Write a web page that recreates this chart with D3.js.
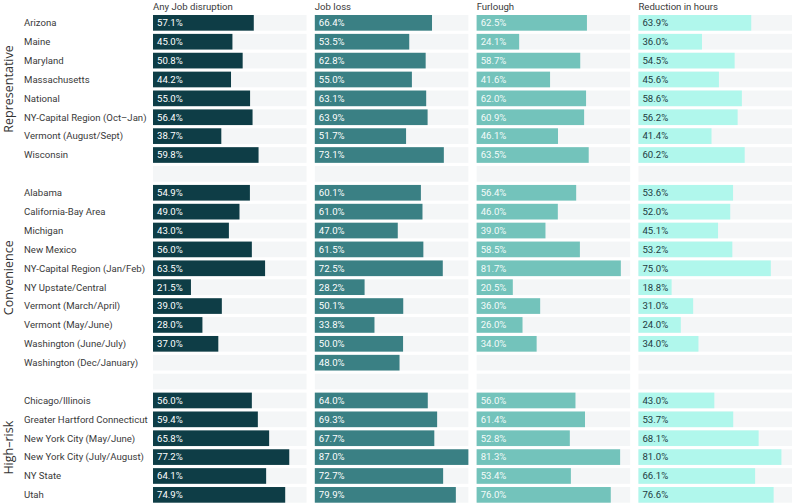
<!DOCTYPE html>
<html>
<head>
<meta charset="utf-8">
<script src="https://cdn.jsdelivr.net/npm/d3@7"></script>
<style>
  body { margin: 0; background: #fff; }
  svg { display: block; font-family: Roboto, sans-serif; }
</style>
</head>
<body>
<script>
// rows (blank strings = spacer rows between groups)
const rows = [
  "Arizona", "Maine", "Maryland", "Massachusetts", "National",
  "NY-Capital Region (Oct\u2013Jan)", "Vermont (August/Sept)", "Wisconsin",
  "",
  "Alabama", "California-Bay Area", "Michigan", "New Mexico",
  "NY-Capital Region (Jan/Feb)", "NY Upstate/Central", "Vermont (March/April)",
  "Vermont (May/June)", "Washington (June/July)", "Washington (Dec/January)",
  " ",
  "Chicago/Illinois", "Greater Hartford Connecticut", "New York City (May/June)",
  "New York City (July/August)", "NY State", "Utah"
]
const groups = ["Representative", "Convenience", "High\u2013risk"]
const groupRows = [[0, 7], [9, 18], [20, 25]]
const columns = ["Any Job disruption", "Job loss", "Furlough", "Reduction in hours"]

// values per column, null = no value
const anyDisruption = [57.1, 45.0, 50.8, 44.2, 55.0, 56.4, 38.7, 59.8, null,
  54.9, 49.0, 43.0, 56.0, 63.5, 21.5, 39.0, 28.0, 37.0, null, null,
  56.0, 59.4, 65.8, 77.2, 64.1, 74.9]
const jobLoss = [66.4, 53.5, 62.8, 55.0, 63.1, 63.9, 51.7, 73.1, null,
  60.1, 61.0, 47.0, 61.5, 72.5, 28.2, 50.1, 33.8, 50.0, 48.0, null,
  64.0, 69.3, 67.7, 87.0, 72.7, 79.9]
const furlough = [62.5, 24.1, 58.7, 41.6, 62.0, 60.9, 46.1, 63.5, null,
  56.4, 46.0, 39.0, 58.5, 81.7, 20.5, 36.0, 26.0, 34.0, null, null,
  56.0, 61.4, 52.8, 81.3, 53.4, 76.0]
const reduction = [63.9, 36.0, 54.5, 45.6, 58.6, 56.2, 41.4, 60.2, null,
  53.6, 52.0, 45.1, 53.2, 75.0, 18.8, 31.0, 24.0, 34.0, null, null,
  43.0, 53.7, 68.1, 81.0, 66.1, 76.6]

const series = [anyDisruption, jobLoss, furlough, reduction]
const colors = ["#0e3d46", "#3a8084", "#73c3bb", "#b0f7ec"]
const textColors = ["#ffffff", "#ffffff", "#f4fbfa", "#1f3a3f"]

const width = 793, height = 504
const svg = d3.select("body").append("svg")
  .attr("width", width).attr("height", height)

const y = d3.scaleBand()
  .domain(rows)
  .range([13.4, 504.3])
  .paddingInner(0.17)
  .paddingOuter(0.085)

const panels = d3.scaleBand()
  .domain(columns)
  .range([153, 792])
  .paddingInner(0.051)
  .paddingOuter(0)

const maxVal = d3.max(series.flat())
const x = d3.scaleLinear()
  .domain([0, maxVal])
  .range([0, panels.bandwidth()])

// group labels
groups.forEach(function(g, i){
  const mid = (y(rows[groupRows[i][0]]) + y(rows[groupRows[i][1]]) + y.bandwidth()) / 2
  svg.append("text")
    .attr("transform", `translate(13,${mid}) rotate(-90)`)
    .attr("text-anchor", "middle")
    .style("font-family", "'Open Sans', sans-serif")
    .style("font-size", "12.5px")
    .attr("fill", "#333")
    .text(g)
})

// row labels
svg.selectAll(".rowlab")
  .data(rows.filter(function(d){ return d.trim() !== "" }))
  .enter().append("text")
  .attr("class", "rowlab")
  .attr("x", 24)
  .attr("y", function(d){ return y(d) + y.bandwidth() / 2 })
  .attr("dy", "0.35em")
  .style("font-size", "9.6px")
  .attr("fill", "#3a3a3a")
  .text(function(d){ return d })

columns.forEach(function(c, ci){
  const g = svg.append("g")
    .attr("transform", `translate(${panels(c)},0)`)

  g.append("text")
    .attr("x", 0)
    .attr("y", 6.5)
    .attr("dy", "0.35em")
    .style("font-size", "9.6px")
    .attr("fill", "#3a3a3a")
    .text(c)

  g.selectAll(".bg")
    .data(rows)
    .enter().append("rect")
    .attr("class", "bg")
    .attr("x", 0)
    .attr("y", function(d){ return y(d) })
    .attr("width", panels.bandwidth())
    .attr("height", y.bandwidth())
    .attr("fill", "#f4f6f7")

  const vals = rows.map(function(r, i){ return {row: r, v: series[ci][i]} })
    .filter(function(d){ return d.v !== null })

  g.selectAll(".bar")
    .data(vals)
    .enter().append("rect")
    .attr("class", "bar")
    .attr("x", 0)
    .attr("y", function(d){ return y(d.row) })
    .attr("width", function(d){ return x(d.v) })
    .attr("height", y.bandwidth())
    .attr("fill", colors[ci])

  g.selectAll(".val")
    .data(vals)
    .enter().append("text")
    .attr("class", "val")
    .attr("x", 4)
    .attr("y", function(d){ return y(d.row) + y.bandwidth() / 2 })
    .attr("dy", "0.35em")
    .style("font-size", "9.6px")
    .attr("fill", textColors[ci])
    .text(function(d){ return d.v.toFixed(1) + "%" })
})
</script>
</body>
</html>
